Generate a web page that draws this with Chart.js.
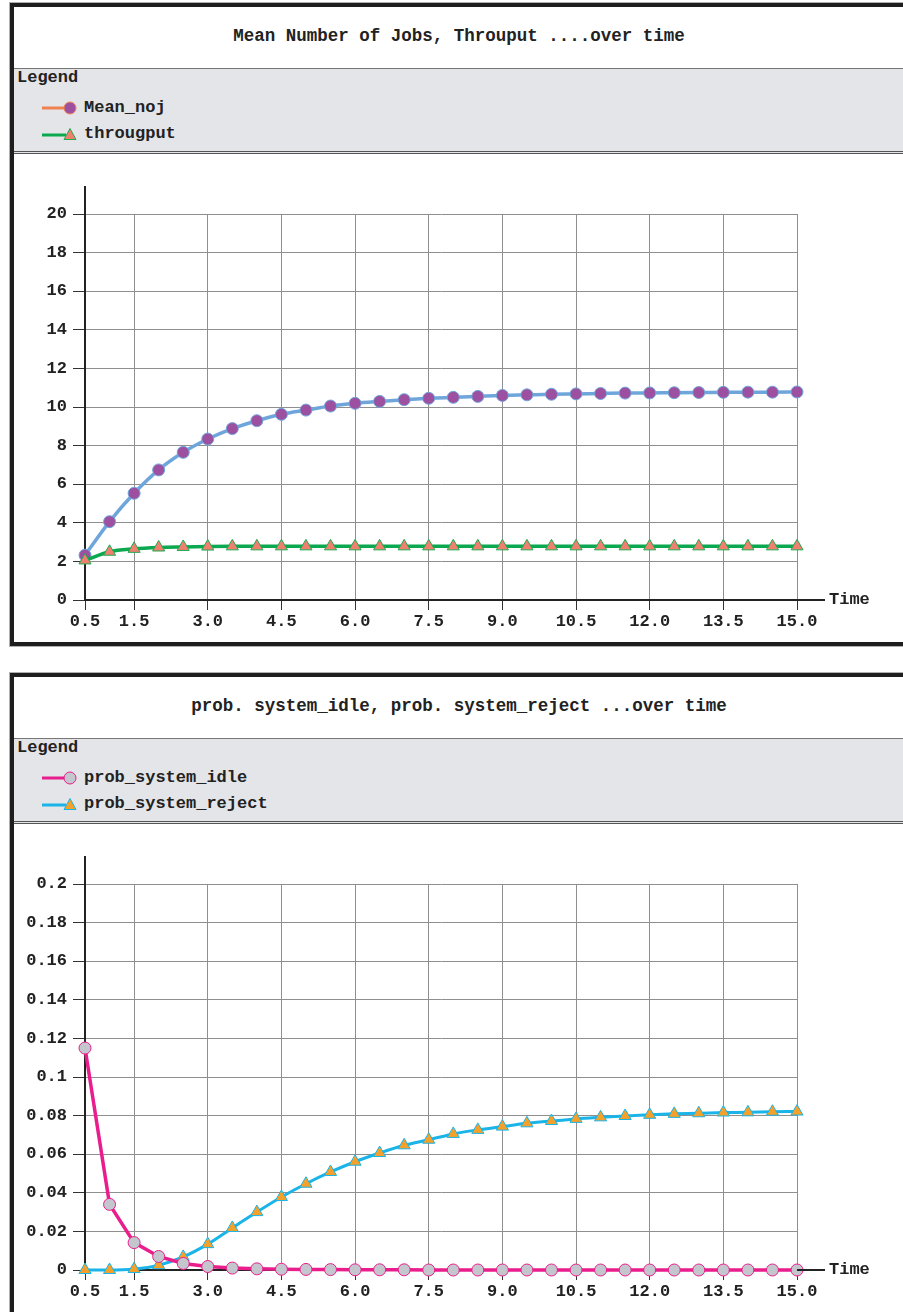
<!DOCTYPE html>
<html>
<head>
<meta charset="utf-8">
<script src="https://cdn.jsdelivr.net/npm/chart.js@4"></script>
<style>
  body{margin:0;width:903px;height:1312px;overflow:hidden;position:relative;background:#fff;
       font-family:'Courier New','Liberation Mono',monospace;font-weight:bold;color:#222;}
  .panel{position:absolute;left:10px;width:890px;height:635px;border:4px solid #1e1e1e;
         box-shadow:0 0 0 1px #b0b0b0;background:#fff;}
  .title{height:61px;line-height:58px;text-align:center;font-size:17.5px;}
  .legend{position:relative;height:82px;background:#e4e5e9;border-top:1px solid #777;border-bottom:3px double #555;font-size:17px;}
  .legend .lt{position:absolute;left:3px;top:0;line-height:17px;}
  .legend .it{position:absolute;left:26px;height:18px;line-height:18px;}
  .legend .it svg{position:absolute;left:0;top:0;}
  .legend .it span{position:absolute;left:44px;top:0;white-space:nowrap;}
  canvas{display:block;}
</style>
</head>
<body>
<div class="panel" style="top:3px">
  <div class="title">Mean Number of Jobs, Throuput ....over time</div>
  <div class="legend">
    <div class="lt">Legend</div>
    <div class="it" style="top:30px">
      <svg width="40" height="18"><line x1="2" y1="9" x2="28" y2="9" stroke="#f08050" stroke-width="3"/><circle cx="30" cy="9" r="6" fill="#9e50a0" stroke="#f08050" stroke-width="1"/></svg>
      <span>Mean_noj</span>
    </div>
    <div class="it" style="top:56px">
      <svg width="40" height="18"><line x1="2" y1="10" x2="26" y2="10" stroke="#0aa84f" stroke-width="3"/><polygon points="30,3.5 24,14.5 36,14.5" fill="#ef7f6f" stroke="#1faa50" stroke-width="1"/></svg>
      <span>througput</span>
    </div>
  </div>
  <canvas id="c1" width="890" height="488"></canvas>
</div>

<div class="panel" style="top:673px">
  <div class="title">prob. system_idle, prob. system_reject ...over time</div>
  <div class="legend">
    <div class="lt">Legend</div>
    <div class="it" style="top:30px">
      <svg width="40" height="18"><line x1="2" y1="9" x2="28" y2="9" stroke="#e91e8c" stroke-width="3"/><circle cx="30" cy="9" r="6" fill="#c3c6cc" stroke="#e91e8c" stroke-width="1"/></svg>
      <span>prob_system_idle</span>
    </div>
    <div class="it" style="top:56px">
      <svg width="40" height="18"><line x1="2" y1="10" x2="26" y2="10" stroke="#1ab4e8" stroke-width="3"/><polygon points="30,3.5 24,14.5 36,14.5" fill="#f3a12a" stroke="#1ab4e8" stroke-width="1"/></svg>
      <span>prob_system_reject</span>
    </div>
  </div>
  <canvas id="c2" width="890" height="488"></canvas>
</div>

<script>
const timeValues = [0.5,1.0,1.5,2.0,2.5,3.0,3.5,4.0,4.5,5.0,5.5,6.0,6.5,7.0,7.5,8.0,8.5,9.0,9.5,10.0,10.5,11.0,11.5,12.0,12.5,13.0,13.5,14.0,14.5,15.0];
const xTickValues = [0.5,1.5,3.0,4.5,6.0,7.5,9.0,10.5,12.0,13.5,15.0];
const yTicksJobs = [0,2,4,6,8,10,12,14,16,18,20];
const yTicksProb = [0,0.02,0.04,0.06,0.08,0.1,0.12,0.14,0.16,0.18,0.2];

const meanNoj = [2.32,4.06,5.53,6.74,7.65,8.34,8.88,9.29,9.62,9.84,10.05,10.19,10.29,10.38,10.45,10.50,10.55,10.60,10.63,10.66,10.68,10.70,10.72,10.73,10.74,10.75,10.76,10.77,10.77,10.78];
const throughput = [2.05,2.50,2.65,2.72,2.75,2.77,2.78,2.78,2.78,2.78,2.78,2.78,2.78,2.78,2.78,2.78,2.78,2.78,2.78,2.78,2.78,2.78,2.78,2.78,2.78,2.78,2.78,2.78,2.78,2.78];
const probIdle = [0.115,0.034,0.0142,0.007,0.0034,0.0018,0.001,0.0006,0.0004,0.0003,0.0002,0.0001,0.0001,0.0001,0,0,0,0,0,0,0,0,0,0,0,0,0,0,0,0];
const probReject = [0,0,0.0005,0.0025,0.0068,0.0134,0.0218,0.030,0.0378,0.0447,0.0508,0.0561,0.0606,0.0646,0.0675,0.0705,0.0726,0.0743,0.0760,0.0772,0.0783,0.0791,0.0798,0.0804,0.0809,0.0812,0.0816,0.0817,0.0820,0.0821];

const FONT = {family:"'Courier New','Liberation Mono',monospace", size:17, weight:'bold'};
Chart.defaults.font = FONT;
Chart.defaults.color = '#222';

const pairs = ys => timeValues.map((t,i)=>({x:t, y:ys[i]}));

// extends axis lines past the plot and writes "Time"
const axisExtras = {
  id:'axisExtras',
  afterDraw(chart){
    const {ctx, chartArea:{left,right,top,bottom}} = chart;
    ctx.save();
    ctx.strokeStyle = '#222'; ctx.lineWidth = 2;
    ctx.beginPath();
    ctx.moveTo(left, top-28); ctx.lineTo(left, top);
    ctx.moveTo(right, bottom); ctx.lineTo(right+28, bottom);
    ctx.stroke();
    ctx.font = "bold 17px 'Courier New','Liberation Mono',monospace";
    ctx.fillStyle = '#222'; ctx.textAlign = 'left'; ctx.textBaseline = 'middle';
    ctx.fillText('Time', right+32, bottom);
    ctx.restore();
  }
};

function makeChart(id, datasets, yTicks, yMax, fmt){
  return new Chart(document.getElementById(id), {
    type:'line',
    data:{datasets:datasets},
    options:{
      responsive:false, animation:false,
      layout:{padding:{top:60, right:107, left:0, bottom:0}},
      plugins:{legend:{display:false}, tooltip:{enabled:false}},
      elements:{line:{cubicInterpolationMode:'monotone'}},
      scales:{
        x:{type:'linear', min:0.5, max:15,
           afterBuildTicks: s => { s.ticks = xTickValues.map(v=>({value:v})); },
           afterFit: s => { s.height = 42; },
           ticks:{padding:2, maxRotation:0, autoSkip:false, callback:v=>Number(v).toFixed(1)},
           grid:{color:'#8f8f8f', lineWidth:1, tickLength:10, tickColor:'#333'},
           border:{color:'#222', width:2}},
        y:{min:0, max:yMax,
           afterBuildTicks: s => { s.ticks = yTicks.map(v=>({value:v})); },
           afterFit: s => { s.width = 71; },
           ticks:{padding:6, callback:fmt},
           grid:{color:'#8f8f8f', lineWidth:1, tickLength:12, tickColor:'#333'},
           border:{color:'#222', width:2}}
      }
    },
    plugins:[axisExtras]
  });
}

makeChart('c1', [
  {label:'Mean_noj', data:pairs(meanNoj), order:1, clip:false,
   borderColor:'#6ea6dc', borderWidth:3.5, pointStyle:'circle', pointRadius:6,
   pointBackgroundColor:'#9e50a0', pointBorderColor:'#6ea6dc', pointBorderWidth:1},
  {label:'througput', data:pairs(throughput), order:0, clip:false,
   borderColor:'#0aa84f', borderWidth:3.5, pointStyle:'triangle', pointRadius:7,
   pointBackgroundColor:'#ef7f6f', pointBorderColor:'#1faa50', pointBorderWidth:1}
], yTicksJobs, 20, v=>String(v));

makeChart('c2', [
  {label:'prob_system_idle', data:pairs(probIdle), order:0, clip:false,
   cubicInterpolationMode:'default', tension:0,
   borderColor:'#e91e8c', borderWidth:3.5, pointStyle:'circle', pointRadius:6,
   pointBackgroundColor:'#c3c6cc', pointBorderColor:'#e91e8c', pointBorderWidth:1},
  {label:'prob_system_reject', data:pairs(probReject), order:1, clip:false,
   borderColor:'#1ab4e8', borderWidth:3, pointStyle:'triangle', pointRadius:7,
   pointBackgroundColor:'#f3a12a', pointBorderColor:'#1ab4e8', pointBorderWidth:1}
], yTicksProb, 0.2, v=>String(Number(Number(v).toFixed(2))));
</script>
</body>
</html>
